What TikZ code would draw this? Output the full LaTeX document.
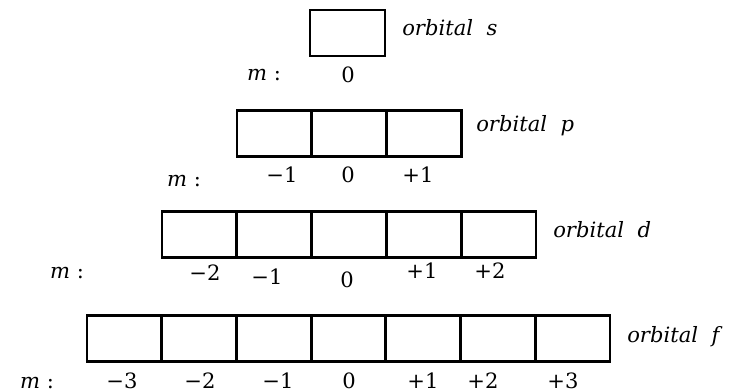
\documentclass[tikz,border=0pt]{standalone}
\usepackage{fontspec}
\setmainfont{DejaVu Serif}
\usetikzlibrary{positioning}
\tikzset{
  orb/.style={draw,line width=2pt,minimum width=1.87cm,minimum height=1.15cm,inner sep=0pt,outer sep=0pt},
  lbl/.style={font=\fontsize{15}{17}\selectfont,inner sep=0pt}
}

\begin{document}
\begin{tikzpicture}[x=0.025cm,y=-0.025cm]
  \useasboundingbox (0,0) rectangle (746,392);
  % s
  \node[orb] (s1) at (347.5,33) {};
  \node[lbl,anchor=west] (sname) at (402,28) {\textit{orbital\ \ s}};
  \node[lbl] (sm) at (264,75) {\textit{m} :};
  \node[lbl] (sv1) at (348,75) {0};
  % p
  \foreach \i in {1,2,3} \node[orb] (p\i) at ({237+74.7*(\i-0.5)},133.5) {};
  \node[lbl,anchor=west] (pname) at (476,126) {\textit{orbital\ \ p}};
  \node[lbl] (pm) at (184,181) {\textit{m} :};
  \foreach \x/\t [count=\i] in {282/−1,348/0,418/+1} \node[lbl] (pv\i) at (\x,175) {\t};
  % d
  \foreach \i in {1,...,5} \node[orb] (d\i) at ({162+74.8*(\i-0.5)},234.5) {};
  \node[lbl,anchor=west] (dname) at (553,230) {\textit{orbital\ \ d}};
  \node[lbl] (dm) at (67,273) {\textit{m} :};
  \foreach \x/\y/\t [count=\i] in {205/273/−2,267/277/−1,347/280/0,422/271/+1,490/271/+2}
    \node[lbl] (dv\i) at (\x,\y) {\t};
  % f
  \foreach \i in {1,...,7} \node[orb] (f\i) at ({87+74.7*(\i-0.5)},338.5) {};
  \node[lbl,anchor=west] (fname) at (627,337) {\textit{orbital\ \ f}};
  \node[lbl] (fm) at (37,383) {\textit{m} :};
  \foreach \x/\t [count=\i] in {122/−3,200/−2,278/−1,349/0,423/+1,483/+2,563/+3}
    \node[lbl] (fv\i) at (\x,381) {\t};
\end{tikzpicture}
\end{document}
